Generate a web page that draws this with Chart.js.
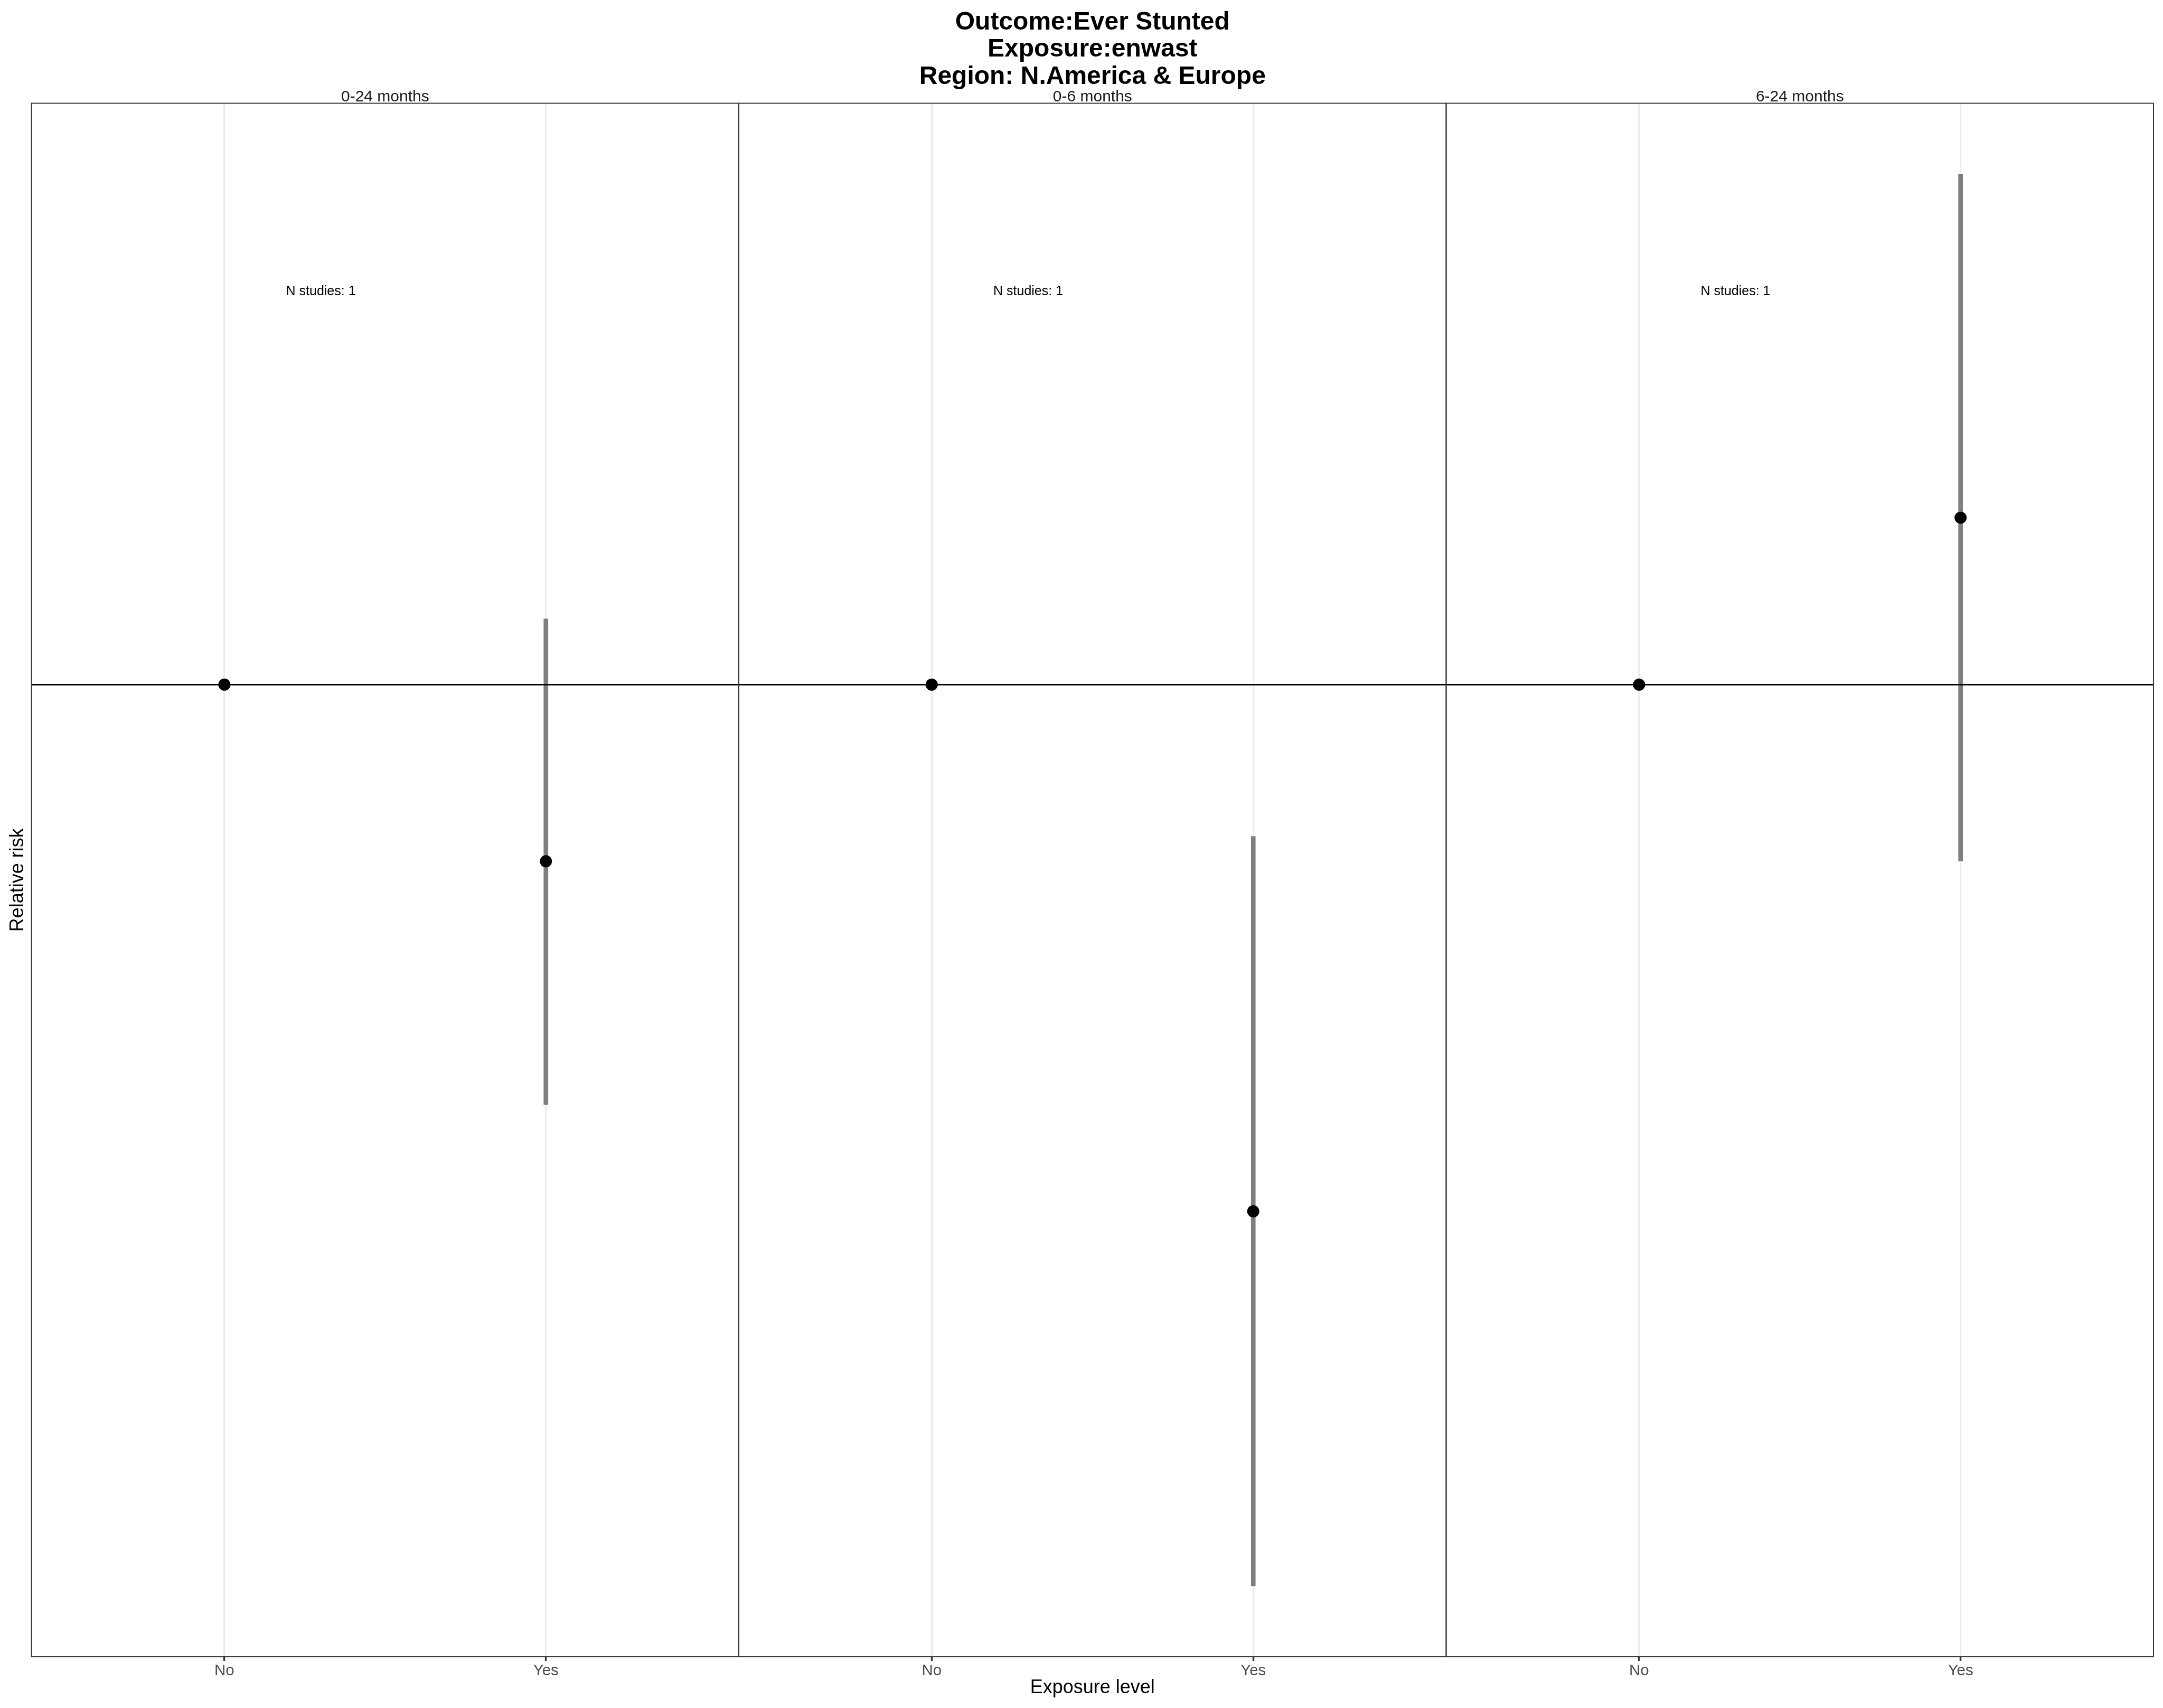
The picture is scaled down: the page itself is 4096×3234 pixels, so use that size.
<!DOCTYPE html>
<html><head><meta charset="utf-8">
<script src="https://cdn.jsdelivr.net/npm/chart.js@4.4.1/dist/chart.umd.min.js"></script>
<style>html,body{margin:0;padding:0;background:#fff;overflow:hidden}canvas{display:block}</style>
</head><body>
<canvas id="c" width="4096" height="3234"></canvas>
<script>
// ---------- data ----------
const titleLines = ['Outcome:Ever Stunted', 'Exposure:enwast', 'Region: N.America & Europe'];
const panels = ['0-24 months', '0-6 months', '6-24 months'];
const levels = ['No', 'Yes'];
const nStudies = [1, 1, 1];
// relative risk per panel, per exposure level (No = reference level)
const rrEstimate = [[1, 0.873], [1, 0.667], [1, 1.137]];
const ciLower   = [[null, 0.724], [null, 0.500], [null, 0.873]];
const ciUpper   = [[null, 1.052], [null, 0.890], [null, 1.481]];
const yAxisTitle = 'Relative risk';
const xAxisTitle = 'Exposure level';

// ---------- layout / style ----------
const FONT = "'Liberation Sans', Arial, Helvetica, sans-serif";
const EXPAND = 0.6;                              // discrete axis expansion
const PANEL_W = levels.length - 1 + 2 * EXPAND;  // width of one facet in x units
const NLABEL_OFFSET = 0.3;                       // from first level, in x units
const NLABEL_RR = 1.353;                         // vertical anchor of "N studies" text

const xOf = (p, l) => p * PANEL_W + EXPAND + l;

// build datasets from the arrays
const pointData = [];
const ciData = [];
panels.forEach((_, p) => levels.forEach((_, l) => {
  pointData.push({x: xOf(p, l), y: rrEstimate[p][l]});
  if (ciLower[p][l] != null) {
    ciData.push({x: xOf(p, l), y: ciLower[p][l]});
    ciData.push({x: xOf(p, l), y: ciUpper[p][l]});
    ciData.push({x: xOf(p, l), y: null});
  }
}));
const xMax = panels.length * PANEL_W;
const refData = [{x: 0, y: 1}, {x: xMax, y: 1}];

const tickVals = [];
const tickLabelOf = {};
panels.forEach((_, p) => levels.forEach((lv, l) => { const v = +xOf(p, l).toFixed(6); tickVals.push(v); tickLabelOf[v] = lv; }));

// y limits: data range with 5% expansion on the log scale
const allLo = ciLower.flat().concat(rrEstimate.flat()).filter(v => v != null);
const allHi = ciUpper.flat().concat(rrEstimate.flat()).filter(v => v != null);
const lLo = Math.log10(Math.min(...allLo)), lHi = Math.log10(Math.max(...allHi));
const yMin = Math.pow(10, lLo - 0.05 * (lHi - lLo));
const yMax = Math.pow(10, lHi + 0.05 * (lHi - lLo));

const facetPlugin = {
  id: 'facets',
  afterDatasetsDraw(chart) {
    const {ctx, chartArea: a, scales: {x}} = chart;
    ctx.save();
    ctx.strokeStyle = '#333333';
    ctx.lineWidth = 1.9;
    panels.forEach((_, p) => {
      const l = x.getPixelForValue(p * PANEL_W), r = x.getPixelForValue((p + 1) * PANEL_W);
      ctx.strokeRect(l, a.top, r - l, a.bottom - a.top);
    });
    ctx.restore();
  },
  afterDraw(chart) {
    const {ctx, chartArea: a, scales: {x, y}} = chart;
    ctx.save();
    ctx.textAlign = 'center';
    ctx.textBaseline = 'alphabetic';
    panels.forEach((name, p) => {
      ctx.fillStyle = '#1a1a1a';
      ctx.font = `30px ${FONT}`;
      ctx.fillText(name, x.getPixelForValue(p * PANEL_W + PANEL_W / 2), a.top - 3.5);
      ctx.fillStyle = '#000000';
      ctx.font = `25px ${FONT}`;
      ctx.textBaseline = 'middle';
      ctx.fillText('N studies: ' + nStudies[p], x.getPixelForValue(p * PANEL_W + EXPAND + NLABEL_OFFSET), y.getPixelForValue(NLABEL_RR));
      ctx.textBaseline = 'alphabetic';
    });
    ctx.restore();
  }
};

new Chart(document.getElementById('c'), {
  type: 'scatter',
  data: {
    datasets: [
      {label: 'estimate', data: pointData, pointRadius: 11.5, pointHoverRadius: 11.5,
       pointBackgroundColor: '#000000', pointBorderColor: '#000000', pointBorderWidth: 0, showLine: false},
      {label: 'reference', data: refData, showLine: true, pointRadius: 0, borderColor: '#000000', borderWidth: 2.6},
      {label: 'ci', data: ciData, showLine: true, spanGaps: false, pointRadius: 0, borderColor: '#7f7f7f',
       borderWidth: 8.7, borderCapStyle: 'butt'}
    ]
  },
  options: {
    responsive: false,
    animation: false,
    devicePixelRatio: 1,
    layout: {padding: {left: 0, right: 18, top: 0, bottom: 0}},
    plugins: {
      legend: {display: false},
      tooltip: {enabled: false},
      title: {
        display: true, text: titleLines, fullSize: false, color: '#000000',
        font: {family: FONT, size: 48, weight: 'bold', lineHeight: 1.073},
        padding: {top: 17, bottom: 24}
      }
    },
    scales: {
      x: {
        type: 'linear', min: 0, max: xMax, bounds: 'data',
        afterBuildTicks: s => { s.ticks = tickVals.map(v => ({value: v})); },
        afterFit: s => { s.height = 97; },
        ticks: {autoSkip: false, maxRotation: 0, minRotation: 0, padding: 1, color: '#4d4d4d',
                font: {family: FONT, size: 29.5}, callback: v => tickLabelOf[+(+v).toFixed(6)]},
        grid: {display: true, drawOnChartArea: true, drawTicks: true, color: '#ebebeb', lineWidth: 3.1,
               tickColor: '#333333', tickLength: 8, tickWidth: 3.4},
        border: {display: false},
        title: {display: true, text: xAxisTitle, color: '#000000', font: {family: FONT, size: 36},
                padding: {top: 0, bottom: 16}}
      },
      y: {
        type: 'logarithmic', min: yMin, max: yMax, bounds: 'data',
        afterFit: s => { s.width = 59.6; },
        ticks: {display: false},
        grid: {display: false, drawTicks: false},
        border: {display: false},
        title: {display: true, text: yAxisTitle, color: '#000000', font: {family: FONT, size: 36},
                padding: {top: 12.4, bottom: 0}}
      }
    }
  },
  plugins: [facetPlugin]
});
</script>
</body></html>
